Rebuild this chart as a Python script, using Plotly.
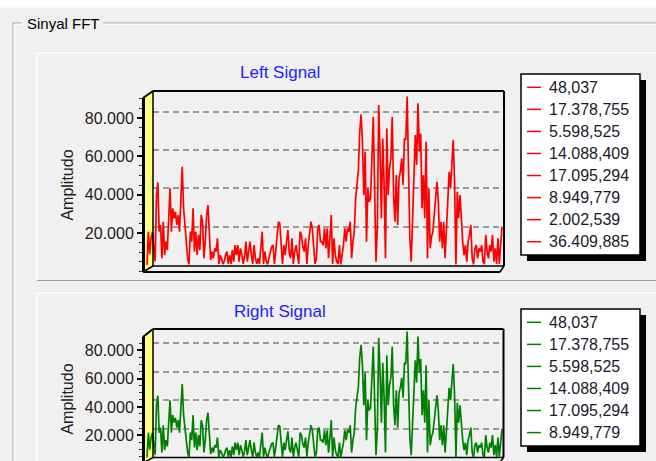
import plotly.graph_objects as go

# ---------------- data ----------------
amplitude_left = [
    48.037, 17378.755, 5598.525, 14088.409, 17095.294, 8949.779, 2002.539, 36409.885,
    43200, 17400, 20900, 3500, 22600, 5200, 12200, 7800, 20900, 40000, 17400, 29600,
    24400, 27800, 20900, 26100, 17400, 33900, 51300, 29600, 20900, 13900,
    3500, 300, 17400, 12200, 29600, 7000, 17400, 5200, 15700, 7800,
    26100, 22600, 3500, 12200, 26100, 31300, 17400, 2600, 7000, 3500,
    8700, 7000, 13900, 500, 5200, 3500, 500, 1700, 5200, 7000,
    600, 5200, 500, 7800, 1700, 10400, 5200,
    10400, 1700, 8700, 5200, 600, 4300, 12200, 1700, 8700, 12200, 5200,
    500, 10400, 3500, 600, 3500, 600, 10400, 17400, 600, 7000, 2200,
    300, 3500, 7000, 9600, 10400, 500, 7000, 17400, 22600, 21700,
    12200, 500, 10400, 5200, 12200, 18300, 6100, 3500, 13900, 500, 7000,
    10400, 5200, 600, 17400, 15700, 9400, 7000, 13900, 600, 10400, 15700,
    22600, 19100, 7000, 600, 3000, 19100, 20900, 12200,
    12200, 10400, 19100, 8700, 19100, 3500, 13900, 26100, 500, 13900,
    5200, 1700, 500, 10400, 300, 5200, 10400, 19100, 12200, 19100,
    17400, 22600, 3500, 12200, 17400,
    34800, 43500, 49600, 69600, 78600, 64400, 36500, 59200, 12200, 40000,
    33000, 34800, 62600, 77400, 40000, 1700, 19100, 83500, 59200, 24400,
    66100, 41800, 3500, 71300, 36500, 50500, 55700, 77400, 36500, 22600,
    47000, 20900, 45200, 48700, 55700, 41800, 66100, 65300, 88000, 41800,
    13900, 1700, 20900, 38300, 67900, 52200,
    84400, 59200, 68700, 29600, 47000, 24400, 64400, 3500, 40000, 8700,
    14800, 17400, 24400, 34800, 43500, 33000, 12200, 22600, 8700, 22600,
    3500, 20900, 29600, 48700, 40000, 52200, 65300, 43500, 300, 38300,
    24400, 36500, 20900,
    12200, 5200, 10400, 1700, 12200, 15700, 20900, 3500, 300, 8700,
    10400, 3500, 8700, 7000, 10400, 1700, 500, 15700, 7000, 3500,
    10400, 7000, 15700, 1700, 8700, 500, 13900, 600, 10400, 20000,
]
# the right channel spectrum shown in the screenshot is the same as the left one
amplitude_right = list(amplitude_left)

chart_titles = ["Left Signal", "Right Signal"]
y_tick_values = [20000, 40000, 60000, 80000]
y_tick_labels = ["20.000", "40.000", "60.000", "80.000"]
axis_title = "Amplitudo"
group_caption = "Sinyal FFT"


def tr_number(v):
    s = f"{v:,.3f}"
    return s.replace(",", "X").replace(".", ",").replace("X", ".")


legend_labels_left = [tr_number(v) for v in amplitude_left[:8]]
legend_labels_right = [tr_number(v) for v in amplitude_right[:6]]

# ---------------- geometry helpers ----------------
W, H = 656, 461
FONT = "Liberation Sans, Arial, sans-serif"
N = len(amplitude_left)
X_FIRST, X_LAST = 147, 502
DX = (X_LAST - X_FIRST) / (N - 1)
idx = list(range(N))


def px(x):
    return x / W


def py(y):
    return 1 - y / H


def xd(x):
    return (x - X_FIRST) / DX


def yd(y, zero, per):
    return (zero - y) / per * 20000


def pline(x0, y0, x1, y1, color="black", width=2, layer="above"):
    return dict(type="line", xref="paper", yref="paper", x0=px(x0), y0=py(y0),
                x1=px(x1), y1=py(y1), line=dict(color=color, width=width), layer=layer)


def prect(x0, y0, x1, y1, fill, line_color=None, width=0, layer="above"):
    return dict(type="rect", xref="paper", yref="paper", x0=px(x0), y0=py(y0),
                x1=px(x1), y1=py(y1), fillcolor=fill,
                line=dict(color=line_color or fill, width=width), layer=layer)


charts = [
    dict(data=amplitude_left, color="#ff0000", title=chart_titles[0], title_y=73,
         top=91, bottom=273, zero=265, per=38.3,
         ftop=98, fbottom=272, fzero=271.3, fper=38.3,
         back_bottom=266, front_bottom=272, right=504,
         legend=legend_labels_left, leg_top=74, leg_bottom=255, row0=87.3,
         xa="x", ya="y", fa="y2"),
    dict(data=amplitude_right, color="#008000", title=chart_titles[1], title_y=311.7,
         top=329, bottom=461, zero=457.6, per=28.67,
         ftop=337, fbottom=461, fzero=463.5, fper=28.3,
         back_bottom=457.5, front_bottom=463, right=503.5,
         legend=legend_labels_right, leg_top=309, leg_bottom=446, row0=322.3,
         xa="x2", ya="y3", fa="y4"),
]

fig = go.Figure()
shapes = []
annotations = []

# window / group box decoration
shapes.append(prect(0, 0, W, 7.5, "#ffffff", layer="below"))
shapes += [
    pline(13, 23, 22, 23, "#a0a0a0", 1, "below"), pline(103, 23, W, 23, "#a0a0a0", 1, "below"),
    pline(14, 24.2, 22, 24.2, "#ffffff", 1, "below"), pline(103, 24.2, W, 24.2, "#ffffff", 1, "below"),
    pline(13, 23, 13, H, "#a0a0a0", 1, "below"), pline(14.2, 24, 14.2, H, "#ffffff", 1, "below"),
    # panel 1
    pline(37, 53, W, 53, "#ffffff", 1.5, "below"), pline(37, 53, 37, 280, "#ffffff", 1.5, "below"),
    pline(37, 280.5, W, 280.5, "#a0a0a0", 1.2, "below"),
    # panel 2
    pline(37, 293, W, 293, "#ffffff", 1.5, "below"), pline(37, 293, 37, H, "#ffffff", 1.5, "below"),
]
annotations.append(dict(text=group_caption, x=px(25), y=py(23), xref="paper", yref="paper",
                        xanchor="left", yanchor="middle", showarrow=False,
                        font=dict(family=FONT, size=15, color="#000000")))

layout_axes = {}
for n, c in enumerate(charts):
    xa_name = "xaxis" if c["xa"] == "x" else "xaxis2"
    ya_name = "yaxis" if c["ya"] == "y" else "yaxis" + c["ya"][1:]
    fa_name = "yaxis" + c["fa"][1:]

    fig.add_trace(go.Scatter(x=idx, y=c["data"], mode="lines", xaxis=c["xa"], yaxis=c["ya"],
                             line=dict(color=c["color"], width=1.7), showlegend=False,
                             hoverinfo="skip"))
    # carrier trace for the front (labelled) axis
    fig.add_trace(go.Scatter(x=[None], y=[None], xaxis=c["xa"], yaxis=c["fa"],
                             showlegend=False, hoverinfo="skip"))

    layout_axes[xa_name] = dict(domain=[px(143), px(c["right"])], range=[xd(143), xd(c["right"])],
                                anchor=c["ya"], visible=False, showgrid=False, zeroline=False)
    layout_axes[ya_name] = dict(domain=[py(c["bottom"]), py(c["top"])],
                                range=[yd(c["bottom"], c["zero"], c["per"]), yd(c["top"], c["zero"], c["per"])],
                                anchor=c["xa"], tickmode="array", tickvals=y_tick_values,
                                showticklabels=False, ticks="", showline=False, zeroline=False,
                                showgrid=True, gridcolor="#999999", griddash="6px,4px", gridwidth=1.6)
    layout_axes[fa_name] = dict(domain=[py(c["fbottom"]), py(c["ftop"])],
                                range=[yd(c["fbottom"], c["fzero"], c["fper"]), yd(c["ftop"], c["fzero"], c["fper"])],
                                anchor="free", position=px(143), side="left",
                                tickmode="array", tickvals=y_tick_values, ticktext=y_tick_labels,
                                ticks="outside", ticklen=5, tickwidth=1.5, tickcolor="#000000",
                                minor=dict(tickmode="linear", tick0=0, dtick=5000, ticks="outside",
                                           ticklen=3, tickwidth=1, tickcolor="#333333"),
                                showline=True, linecolor="#000000", linewidth=3,
                                showgrid=False, zeroline=False,
                                tickfont=dict(family=FONT, size=16, color="#202020"),
                                title=dict(text=axis_title, standoff=6,
                                           font=dict(family=FONT, size=16, color="#202020")))

    # yellow left wall (between grid and data)
    zero, per = c["zero"], c["per"]
    pts = [(143, c["ftop"]), (153, c["top"]), (153, c["back_bottom"]), (143, c["front_bottom"])]
    path = "M " + " L ".join(f"{xd(a)},{yd(b, zero, per)}" for a, b in pts) + " Z"
    shapes.append(dict(type="path", xref=c["xa"], yref=c["ya"], path=path,
                       fillcolor="#ffff80", line=dict(width=0), layer="between"))

    # 3D frame
    t, bb, fb, r = c["top"], c["back_bottom"], c["front_bottom"], c["right"]
    shapes += [
        pline(153, t, r, t, width=2), pline(r, t, r, bb, width=2),
        pline(153, bb, r, bb, width=1.5), pline(153, t, 153, bb, width=1.5),
        pline(143, c["ftop"], 153, t, width=2),
        pline(143, fb, r - 4, fb, width=2), pline(r, bb, r - 4, fb, width=1.5),
        pline(143, fb, 153, bb, width=1.5),
    ]

    # title
    annotations.append(dict(text=c["title"], x=px(280), y=py(c["title_y"]), xref="paper", yref="paper",
                            xanchor="center", yanchor="middle", showarrow=False,
                            font=dict(family=FONT, size=17, color="#2222ff")))

    # legend box (values legend)
    lt, lb = c["leg_top"], c["leg_bottom"]
    shapes.append(prect(527, lt + 6, 646, lb + 6, "#000000"))
    shapes.append(prect(521, lt, 640, lb, "#ffffff", "#000000", 1.5))
    for k, lab in enumerate(c["legend"]):
        yy = c["row0"] + 22.06 * k
        shapes.append(pline(527, yy, 541, yy, c["color"], 1.5))
        annotations.append(dict(text=lab, x=px(547), y=py(yy), xref="paper", yref="paper",
                                xanchor="left", yanchor="middle", showarrow=False,
                                font=dict(family=FONT, size=16, color="#1a1a2a")))

fig.update_layout(
    template="none",
    width=W, height=H,
    margin=dict(l=0, r=0, t=0, b=0, pad=0),
    paper_bgcolor="#f0f0f0", plot_bgcolor="rgba(0,0,0,0)",
    showlegend=False,
    shapes=shapes, annotations=annotations,
    **layout_axes,
)

fig.write_html("out.html", config={"displayModeBar": False},
               post_script="document.body.style.margin='0';document.body.style.overflow='hidden';")
